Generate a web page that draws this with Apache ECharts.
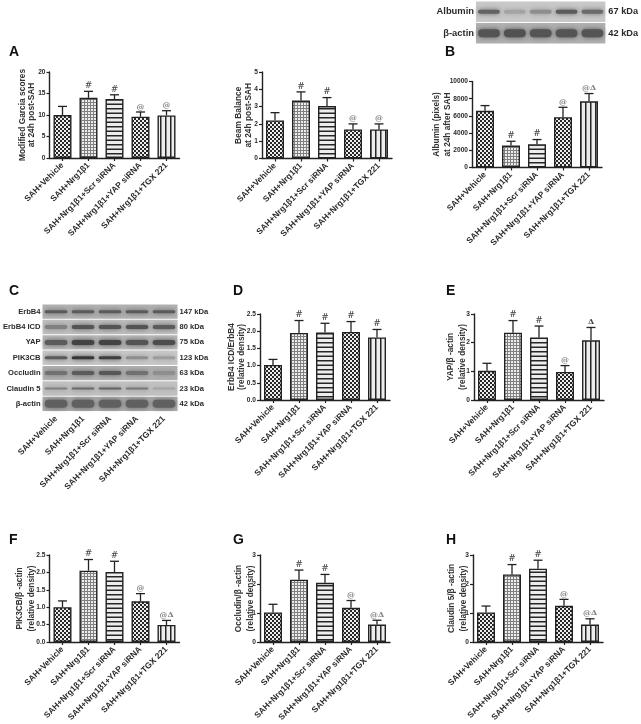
<!DOCTYPE html>
<html><head><meta charset="utf-8">
<style>html,body{margin:0;background:#fff}#c{width:641px;height:724px;filter:blur(0.4px)}</style>
<script src="https://cdn.jsdelivr.net/npm/echarts@6/dist/echarts.min.js"></script>
</head><body><div id="c"></div>
<script>
const categories = ['SAH+Vehicle','SAH+Nrg1β1','SAH+Nrg1β1+Scr siRNA','SAH+Nrg1β1+YAP siRNA','SAH+Nrg1β1+TGX 221'];

const garciaValues = [10,14,13.7,9.6,9.9];
const garciaTops   = [12,15.5,14.7,10.7,11];
const garciaMarks  = ['','#','#','@','@'];

const beamValues = [2.2,3.35,3.03,1.68,1.68];
const beamTops   = [2.65,3.85,3.52,2.0,2.0];
const beamMarks  = ['','#','#','@','@'];

const albuminValues = [6600,2550,2700,5850,7700];
const albuminTops   = [7200,3050,3250,7000,8600];
const albuminMarks  = ['','#','#','@','@Δ'];

const icdValues = [1.02,1.95,1.96,1.98,1.82];
const icdTops   = [1.18,2.31,2.23,2.28,2.05];
const icdMarks  = ['','#','#','#','#'];

const yapValues = [1.02,2.35,2.18,0.98,2.08];
const yapTops   = [1.28,2.77,2.58,1.2,2.53];
const yapMarks  = ['','#','#','@','Δ'];

const pikValues = [1.0,2.05,2.01,1.17,0.49];
const pikTops   = [1.18,2.37,2.32,1.39,0.62];
const pikMarks  = ['','#','#','@','@Δ'];

const occValues = [1.02,2.15,2.04,1.18,0.6];
const occTops   = [1.3,2.48,2.33,1.43,0.75];
const occMarks  = ['','#','#','@','@Δ'];

const claudinValues = [1.02,2.33,2.53,1.25,0.6];
const claudinTops   = [1.24,2.67,2.82,1.47,0.8];
const claudinMarks  = ['','#','#','@','@Δ'];

const blotRowsC = ['ErbB4','ErbB4 ICD','YAP','PIK3CB','Occludin','Claudin 5','β-actin'];
const blotKdaC  = ['147 kDa','80 kDa','75 kDa','123 kDa','63 kDa','23 kDa','42 kDa'];
const blotBgC   = [178,190,184,200,176,194,170];
const blotDarkC = [
  [.75,.75,.75,.75,.75],
  [.5,.8,.8,.8,.75],
  [.75,.92,.92,.8,.85],
  [.75,1,.95,.4,.3],
  [.6,.75,.78,.6,.4],
  [.5,.65,.7,.55,.25],
  [.72,.72,.72,.72,.72]
];
const blotThickC = [3,4,5,3,4,2,8];

const blotRowsTop = ['Albumin','β-actin'];
const blotKdaTop  = ['67 kDa','42 kDa'];
const blotBgTop   = [200,176];
const blotDarkTop = [[.7,.25,.4,.75,.65],[.8,.82,.8,.8,.8]];
const blotThickTop = [4,8];

const ink = '#222';
const font = '"Liberation Sans",Arial,sans-serif';

function pat(w,h,draw){
  const c=document.createElement('canvas');c.width=w;c.height=h;
  const x=c.getContext('2d');x.fillStyle='#ededed';x.fillRect(0,0,w,h);draw(x);return c;
}
const checker = pat(4,4,x=>{x.fillStyle='#262626';x.fillRect(0,0,2,2);x.fillRect(2,2,2,2);});
const gridPat = pat(3,3,x=>{x.fillStyle='#808080';x.fillRect(0,0,3,1);x.fillRect(0,0,1,3);});
const hStripe = pat(4,9,x=>{x.fillStyle='#262626';x.fillRect(0,0,4,1.5);x.fillRect(0,4.5,4,1.5);});
const vStripe = pat(5,4,x=>{x.fillStyle='#262626';x.fillRect(0,0,1.5,4);});
const patterns = [checker,gridPat,hStripe,checker,vStripe];

const chartPanels = [
 {l:49.5,t:72,w:130,h:86,max:20,step:5,gap:13,name:'Modified Garcia scores\nat 24h post-SAH',v:garciaValues,e:garciaTops,m:garciaMarks},
 {l:262,t:72,w:130,h:86.5,max:5,step:1,gap:9,name:'Beam Balance\nat 24h post-SAH',v:beamValues,e:beamTops,m:beamMarks},
 {l:472,t:81.5,w:130,h:86,max:10000,step:2000,name:'Albumin (pixels)\nat 24h after SAH',v:albuminValues,e:albuminTops,m:albuminMarks,size:8.3,gap:18.5,lh:11},
 {l:260,t:314,w:130,h:86,max:2.5,step:.5,d:1,name:'ErbB4 ICD/ErbB4\n(relative density)',v:icdValues,e:icdTops,m:icdMarks,size:8.3,gap:13,lh:10},
 {l:474,t:314,w:130,h:86,max:3,step:1,name:'YAP/β -actin\n(relative density)',v:yapValues,e:yapTops,m:yapMarks,size:8.3,gap:5,lh:12},
 {l:49.5,t:555,w:130,h:87,max:2.5,step:.5,d:1,name:'PIK3CB/β -actin\n(relative density)',v:pikValues,e:pikTops,m:pikMarks,size:8.3,gap:11.5,lh:12},
 {l:260,t:555,w:130,h:87,max:3,step:1,name:'Occludin/β -actin\n(relative density)',v:occValues,e:occTops,m:occMarks,size:8.3,gap:3,lh:12},
 {l:473,t:555,w:130,h:87,max:3,step:1,name:'Claudin 5/β -actin\n(relative density)',v:claudinValues,e:claudinTops,m:claudinMarks,size:8.3,gap:3,lh:12}
];
const blotPanels = [
 {l:37.5,t:304,w:140,h:107.5,rows:blotRowsC,kda:blotKdaC,bg:blotBgC,dark:blotDarkC,thick:blotThickC,size:7.6,labels:true,kSize:7.6,kMargin:2},
 {l:476,t:1,w:130,h:43,rows:blotRowsTop,kda:blotKdaTop,bg:blotBgTop,dark:blotDarkTop,thick:blotThickTop,size:9.4,labels:false,kSize:9.2,kMargin:3}
];
const panelLetters = [['A',9,56],['B',445,56],['C',9,295],['D',233,295],['E',446,295],['F',9,544],['G',233,544],['H',446,544]];

const grid=[],xAxis=[],yAxis=[],series=[];
const axisLine={show:true,onZero:false,lineStyle:{color:ink,width:1.4}};
const labelX={interval:0,rotate:45,fontFamily:font,fontWeight:'bold',fontSize:8.4,color:'#2a2a2a',margin:6};

chartPanels.forEach(p=>{
  const g=grid.length;
  grid.push({left:p.l,top:p.t,width:p.w,height:p.h});
  xAxis.push({type:'category',gridIndex:g,data:categories,
    axisLine,axisTick:{show:true,alignWithLabel:true,length:3,lineStyle:{color:ink,width:1.2}},axisLabel:labelX});
  yAxis.push({type:'value',gridIndex:g,min:0,max:p.max,interval:p.step,splitLine:{show:false},
    axisLine,axisTick:{show:true,length:3,lineStyle:{color:ink,width:1.2}},
    axisLabel:{fontFamily:font,fontWeight:'bold',fontSize:6.6,color:'#2a2a2a',margin:4,
      formatter:v=>p.d?v.toFixed(p.d):String(v)},
    name:p.name,nameLocation:'middle',nameGap:p.gap,nameRotate:90,nameMoveOverlap:false,
    nameTextStyle:{fontFamily:font,fontWeight:'bold',fontSize:p.size||8.4,color:'#333',lineHeight:p.lh||9.5}});
  series.push({type:'bar',xAxisIndex:g,yAxisIndex:yAxis.length-1,barWidth:18,silent:true,
    data:p.v.map((v,i)=>({value:v,itemStyle:{color:{image:patterns[i],repeat:'repeat'},borderColor:ink,borderWidth:1.4}}))});
  series.push({type:'custom',xAxisIndex:g,yAxisIndex:yAxis.length-1,silent:true,z:3,
    data:p.v.map((v,i)=>[i,v,p.e[i],p.m[i]]),
    renderItem(params,api){
      const a=api.coord([api.value(0),api.value(1)]),b=api.coord([api.value(0),api.value(2)]);
      const mark=p.m[params.dataIndex];
      const ch=[
       {type:'line',shape:{x1:a[0],y1:a[1],x2:a[0],y2:b[1]},style:{stroke:ink,lineWidth:1.3}},
       {type:'line',shape:{x1:a[0]-4.5,y1:b[1],x2:a[0]+4.5,y2:b[1]},style:{stroke:ink,lineWidth:1.3}}
      ];
      if(mark) ch.push({type:'text',style:{x:a[0],y:b[1]-5.5,text:mark,align:'center',verticalAlign:'middle',
        font:(mark==='#'?'9px ':'bold 8px ')+'"DejaVu Serif",serif',fill:mark==='#'||mark==='Δ'?'#444':'#808080'}});
      return {type:'group',children:ch};
    }});
});

blotPanels.forEach(p=>{
  const g=grid.length;
  grid.push({left:p.l,top:p.t,width:p.w,height:p.h});
  xAxis.push({type:'category',gridIndex:g,data:categories,axisLine:{show:false},axisTick:{show:false},
    axisLabel:p.labels?labelX:{show:false}});
  const yi=yAxis.length;
  const yBase={type:'category',gridIndex:g,inverse:true,axisLine:{show:false},axisTick:{show:false}};
  yAxis.push({...yBase,position:'left',data:p.rows,
    axisLabel:{interval:0,fontFamily:font,fontWeight:'bold',fontSize:p.size,color:'#2a2a2a',margin:2}});
  yAxis.push({...yBase,position:'right',data:p.kda,
    axisLabel:{interval:0,fontFamily:font,fontWeight:'bold',fontSize:p.kSize,color:'#2a2a2a',margin:p.kMargin}});
  series.push({type:'custom',xAxisIndex:g,yAxisIndex:yi,silent:true,clip:false,z:1,
    data:p.bg.map((b,r)=>[0,r,b]),
    renderItem(params,api){
      const c=api.coord([0,api.value(1)]),s=api.size([1,1]),gs=api.value(2),box=params.coordSys;
      return {type:'rect',shape:{x:box.x,y:c[1]-s[1]/2+.5,width:box.width,height:s[1]-1},
        style:{fill:`rgb(${gs},${gs},${gs})`}};
    }});
  const bands=[];
  p.dark.forEach((row,r)=>row.forEach((d,i)=>bands.push([i,r,d,p.thick[r]])));
  series.push({type:'custom',xAxisIndex:g,yAxisIndex:yi,silent:true,clip:false,z:2,
    data:bands,
    renderItem(params,api){
      const c=api.coord([api.value(0),api.value(1)]),s=api.size([1,1]);
      const t=api.value(3),w=s[0]*.84,gs=Math.round(200-145*api.value(2));
      const col=`rgb(${gs},${gs},${gs})`;
      return {type:'rect',shape:{x:c[0]-w/2,y:c[1]-t/2,width:w,height:t,r:t/2},
        style:{fill:col,shadowBlur:5,shadowColor:col}};
    }});
});

const graphic=panelLetters.map(([t,x,y])=>({type:'text',left:x,top:y-11,
  style:{text:t,font:'bold 14px '+font,fill:'#111'}}));

const chart=echarts.init(document.getElementById('c'),null,{renderer:'canvas'});
chart.setOption({animation:false,grid,xAxis,yAxis,series,graphic});
</script></body></html>
